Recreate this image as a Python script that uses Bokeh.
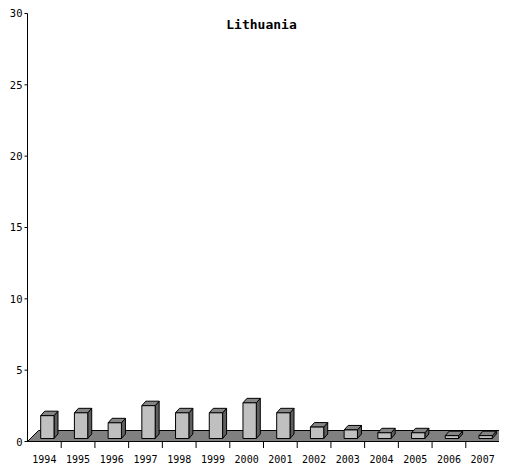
from bokeh.plotting import figure
from bokeh.models import Range1d
from bokeh.core.properties import value
from bokeh.embed import file_html
from bokeh.resources import INLINE

# ---- data ----
years = ["1994", "1995", "1996", "1997", "1998", "1999", "2000",
         "2001", "2002", "2003", "2004", "2005", "2006", "2007"]
values = [1.6, 1.8, 1.1, 2.3, 1.8, 1.8, 2.5, 1.8, 0.8, 0.6, 0.4, 0.4, 0.2, 0.2]
y_ticks = [0, 5, 10, 15, 20, 25, 30]
title = "Lithuania"

# ---- geometry (pixel sizes converted to data units) ----
UX = 33.714   # px per category
UY = 14.267   # px per value unit
W, H = 499, 465
X0PX, Y0PX = 27, 441   # pixel position of the origin on the canvas
x0 = (0 - X0PX) / UX
x1 = (W - X0PX) / UX
y0 = (Y0PX - H) / UY
y1 = Y0PX / UY

n = len(years)
fdx, fdy = 11 / UX, 11 / UY     # floor depth
ox, oy = 3 / UX, 3 / UY         # bar front offset into the floor
bdx, bdy = 4 / UX, 4.5 / UY     # bar depth
half = 0.1975                   # half bar width (category units)

p = figure(width=W, height=H, x_range=Range1d(x0, x1), y_range=Range1d(y0, y1),
           output_backend="svg", toolbar_location=None,
           x_axis_location=None, y_axis_location=None, min_border=0,
           outline_line_color=None, background_fill_color="white",
           border_fill_color="white")
for g in list(p.center):
    g.visible = False

# floor
p.patch(x=[0, n, n + fdx, fdx], y=[0, 0, fdy, fdy],
        fill_color="#808080", line_color="black", line_width=1)

# bars
lefts, rights, bottoms, tops = [], [], [], []
top_xs, top_ys, side_xs, side_ys = [], [], [], []
for i, v in enumerate(values):
    xl = i + 0.5 - half + ox
    xr = i + 0.5 + half + ox
    b = oy
    t = oy + v
    lefts.append(xl); rights.append(xr); bottoms.append(b); tops.append(t)
    top_xs.append([xl, xr, xr + bdx, xl + bdx])
    top_ys.append([t, t, t + bdy, t + bdy])
    side_xs.append([xr, xr + bdx, xr + bdx, xr])
    side_ys.append([b, b + bdy, t + bdy, t])

p.patches(xs=side_xs, ys=side_ys, fill_color="#5e5e5e", line_color="black", line_width=1)
p.patches(xs=top_xs, ys=top_ys, fill_color="#858585", line_color="black", line_width=1)
p.quad(left=lefts, right=rights, bottom=bottoms, top=tops,
       fill_color="#c0c0c0", line_color="black", line_width=1)

TICK_FONT = value("DejaVu Sans Mono")

# y axis
p.segment(x0=[0], y0=[0], x1=[0], y1=[max(y_ticks)], line_color="black", line_width=1)
p.segment(x0=[-3 / UX] * len(y_ticks), y0=y_ticks, x1=[0] * len(y_ticks), y1=y_ticks,
          line_color="black", line_width=1)
p.text(x=[-5 / UX] * len(y_ticks), y=y_ticks, text=[str(t) for t in y_ticks],
       text_align="right", text_baseline="middle",
       text_font=TICK_FONT, text_font_size="10.5px", text_color="black")

# x axis ticks and labels
bx = list(range(1, n + 1))
p.segment(x0=bx, y0=[0] * n, x1=bx, y1=[-6.5 / UY] * n, line_color="black", line_width=1)
p.text(x=[i + 0.5 for i in range(n)], y=[-17 / UY] * n, text=years,
       text_align="center", text_baseline="middle",
       text_font=TICK_FONT, text_font_size="10px", text_color="black")

# title
p.text(x=[(261 - X0PX) / UX], y=[(Y0PX - 24) / UY], text=[title],
       text_align="center", text_baseline="middle",
       text_font=value("DejaVu Sans Mono"), text_font_size="13px",
       text_font_style="bold", text_color="black")

open("out.html", "w").write(file_html(p, INLINE))
